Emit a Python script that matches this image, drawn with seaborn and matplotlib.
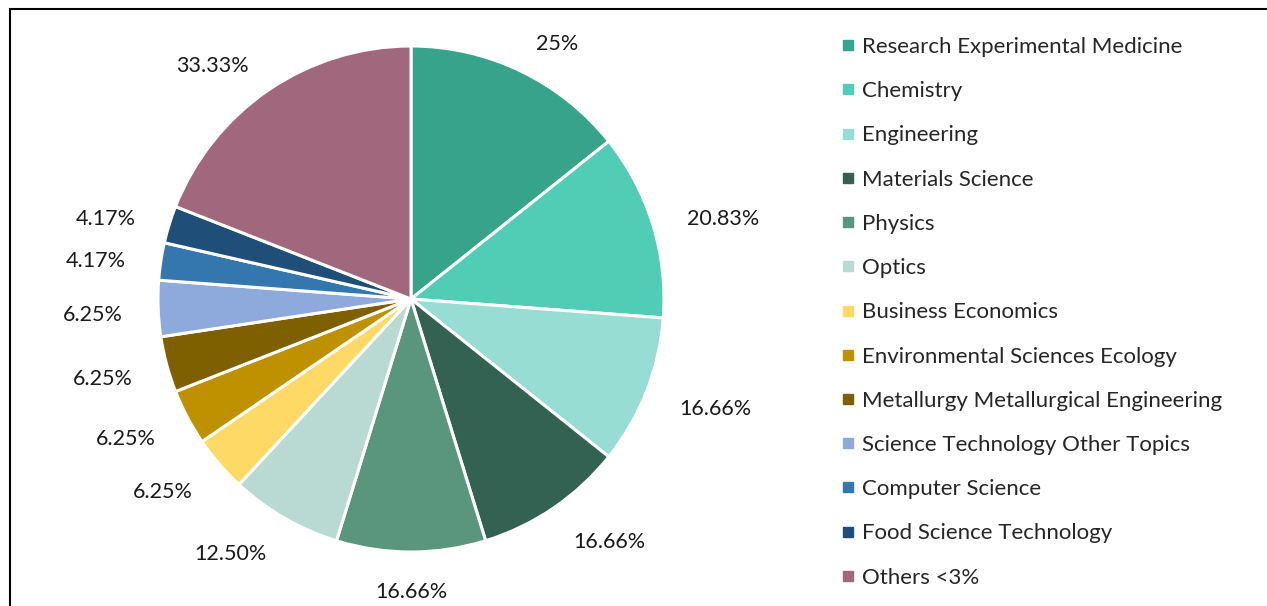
import matplotlib
matplotlib.use("Agg")
import matplotlib.pyplot as plt
from matplotlib.lines import Line2D
from matplotlib.patches import Rectangle
import seaborn as sns

categories = [
    "Research Experimental Medicine", "Chemistry", "Engineering",
    "Materials Science", "Physics", "Optics", "Business Economics",
    "Environmental Sciences Ecology", "Metallurgy Metallurgical Engineering",
    "Science Technology Other Topics", "Computer Science",
    "Food Science Technology", "Others <3%",
]
values = [25, 20.83, 16.66, 16.66, 16.66, 12.50, 6.25, 6.25, 6.25, 6.25, 4.17, 4.17, 33.33]
value_labels = ["25%", "20.83%", "16.66%", "16.66%", "16.66%", "12.50%",
                "6.25%", "6.25%", "6.25%", "6.25%", "4.17%", "4.17%", "33.33%"]
colors = ["#36A38A", "#52CDB5", "#98DDD4", "#336152", "#5A957D", "#B9D9D3",
          "#FFD966", "#BF9000", "#7F6000", "#8EA9DB", "#3476AE", "#1F4E79", "#A0677D"]

sns.set_theme(style="white")
plt.rcParams["font.family"] = ["Lato", "DejaVu Sans"]

W, H = 1267, 606
fig = plt.figure(figsize=(W / 100, H / 100), dpi=100)

# pie centred at (411, 299) px with radius 253 px
R = 253
cx, cy = 411, H - 299
ax = fig.add_axes([(cx - 1.25 * R) / W, (cy - 1.25 * R) / H, 2.5 * R / W, 2.5 * R / H])
palette = sns.color_palette(colors)
wedges, texts = ax.pie(values, labels=value_labels, colors=palette, startangle=90,
                       counterclock=False, labeldistance=1.14,
                       wedgeprops=dict(edgecolor="white", linewidth=2.2),
                       textprops=dict(fontsize=15.5, color="#1a1a1a"))
for t in texts:
    x, y = t.get_position()
    t.set_position((x, y - 0.02))
    if abs(x) < 0.1:
        t.set_ha("center")
ax.set_xlim(-1.25, 1.25)
ax.set_ylim(-1.25, 1.25)
ax.set_aspect("equal")

handles = [Line2D([], [], marker="s", linestyle="none", markersize=6.5,
                  markerfacecolor=c, markeredgecolor=c) for c in colors]
fig.legend(handles, categories, loc="upper left", bbox_to_anchor=(840 / W, 1 - 37 / H),
           frameon=False, fontsize=16, handlelength=0.7, handletextpad=0.3,
           labelspacing=1.09, borderaxespad=0, borderpad=0)

fig.patches.append(Rectangle((10 / W, -0.1), 1.1, 1 - 9 / H + 0.1, transform=fig.transFigure,
                             fill=False, edgecolor="black", linewidth=1.5))

fig.savefig("out.png", dpi=100)
